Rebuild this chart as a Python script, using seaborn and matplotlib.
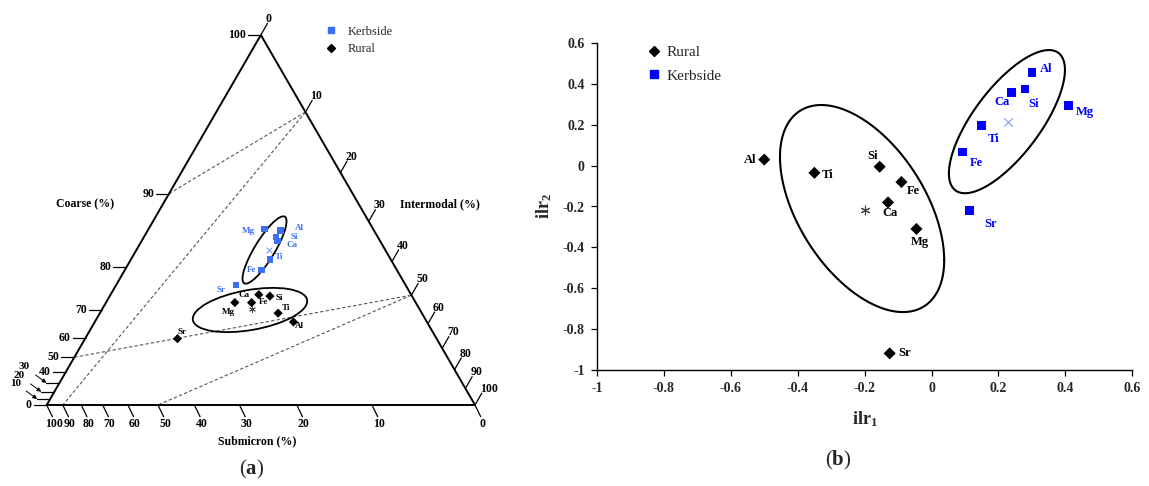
import numpy as np
import pandas as pd
import matplotlib
matplotlib.use("Agg")
import matplotlib.pyplot as plt
import seaborn as sns
from matplotlib.patches import Ellipse
from matplotlib.lines import Line2D

# ---------------- data ----------------
elements = ["Al", "Si", "Ca", "Mg", "Ti", "Fe", "Sr"]

# (a) ternary compositions (%): coarse / intermodal / submicron
kerb_coarse = [74.2, 73.3, 72.3, 75.8, 68.8, 66.8, 64.8]
kerb_inter = [20.6, 21.0, 21.9, 18.2, 23.9, 24.7, 23.5]
kerb_sub = [5.1, 5.7, 5.8, 6.0, 7.3, 8.6, 11.7]
rural_coarse = [48.1, 58.7, 58.0, 59.3, 52.4, 60.0, 49.8]
rural_inter = [42.0, 31.5, 30.1, 27.2, 37.1, 29.4, 25.3]
rural_sub = [9.9, 9.8, 11.9, 13.4, 10.5, 10.6, 24.9]
kerb_centre_t = [71.0, 22.2, 6.8]
rural_centre_t = [55.9, 31.6, 12.4]
centring = [6.75, 2.85, 1.0]          # perturbation used to centre the ternary
tern_ticks = [0, 10, 20, 30, 40, 50, 60, 70, 80, 90, 100]
guide_lines = [((90, 0, 10), (90, 10, 0)), ((90, 10, 0), (0, 10, 90)),
               ((50, 0, 50), (50, 50, 0)), ((50, 50, 0), (0, 50, 50))]

# (b) ilr coordinates
kerb_ilr1 = [0.30, 0.28, 0.24, 0.41, 0.15, 0.093, 0.114]
kerb_ilr2 = [0.456, 0.375, 0.36, 0.296, 0.196, 0.067, -0.22]
rural_ilr1 = [-0.50, -0.155, -0.13, -0.045, -0.35, -0.09, -0.125]
rural_ilr2 = [0.03, -0.005, -0.18, -0.31, -0.035, -0.08, -0.92]
kerb_centre_ilr = [0.228, 0.213]
rural_centre_ilr = [-0.20, -0.215]
# ellipse shape matrices (var1, var2, cov) and centres
kerb_ell = dict(c=(0.2255, 0.216), sx=0.1735, sy=0.351, sxy=0.044)
rural_ell = dict(c=(-0.2075, -0.21), sx=0.2455, sy=0.5075, sxy=-0.062)
ilr_ticks = [-1, -0.8, -0.6, -0.4, -0.2, 0, 0.2, 0.4, 0.6]
ilr_ticklabels = ["-1", "-0.8", "-0.6", "-0.4", "-0.2", "0", "0.2", "0.4", "0.6"]

# ---------------- style ----------------
sns.set_theme(style="white")
plt.rcParams["font.family"] = ["Liberation Serif", "DejaVu Serif"]
plt.rcParams["mathtext.fontset"] = "custom"
plt.rcParams["mathtext.rm"] = "Liberation Serif"
plt.rcParams["mathtext.bf"] = "Liberation Serif:bold"
plt.rcParams["mathtext.it"] = "Liberation Serif:italic"

BLUE_A = "#3a6ff5"
BLUE_B = "#0000ff"
FW, FH = 1149, 486
fig = plt.figure(figsize=(FW / 100, FH / 100), dpi=100)

# ---------------- (a) centred ternary ----------------
W, H = 428.3, 370.0
axL = fig.add_axes([0, 0, 575 / FW, 1])
axL.set_xlim(-46.7, 575 - 46.7)
axL.set_ylim(-81, 405)
axL.axis("off")


def tern(c, i, s):
    cc = np.asarray(c, float) / centring[0]
    ii = np.asarray(i, float) / centring[1]
    ss = np.asarray(s, float) / centring[2]
    tot = cc + ii + ss
    C, I = cc / tot, ii / tot
    return W * (I + 0.5 * C), H * C


tri = [tern(0, 0, 100), tern(0, 100, 0), tern(100, 0, 0), tern(0, 0, 100)]
axL.plot([p[0] for p in tri], [p[1] for p in tri], color="black", lw=1.4,
         solid_joinstyle="miter", zorder=2)

for a, b in guide_lines:
    pa, pb = tern(*a), tern(*b)
    axL.plot([pa[0], pb[0]], [pa[1], pb[1]], color="#555555", lw=0.8,
             ls=(0, (3, 2)), zorder=1)

tk = dict(fontsize=8.5, fontweight="bold", color="black")
for v in tern_ticks:
    # coarse (left edge)
    X, Y = tern(v, 0, 100 - v)
    axL.plot([X - 13, X], [Y, Y], color="black", lw=0.9)
    if v in (10, 20, 30):
        axL.annotate(str(v), xy=(X - 13, Y), xytext=(X - 35, Y + 16),
                     ha="center", va="center",
                     arrowprops=dict(arrowstyle="-|>", lw=0.7, color="black",
                                     mutation_scale=6, shrinkA=2, shrinkB=0),
                     fontsize=8, fontweight="bold", color="black")
    else:
        axL.text(X - 15, Y, str(v), ha="right", va="center", **tk)
    # submicron (bottom edge)
    X, Y = tern(0, 100 - v, v)
    axL.plot([X, X + 5.7], [Y, Y - 11.7], color="black", lw=0.9)
    axL.text(X + 7, Y - 19, str(v), ha="center", va="center", **tk)
    # intermodal (right edge)
    X, Y = tern(100 - v, v, 0)
    axL.plot([X, X + 6.7], [Y, Y + 11.7], color="black", lw=0.9)
    axL.text(X + 5, Y + 10, str(v), ha="left", va="bottom", **tk)

axL.text(38.3, 200.7, "Coarse (%)", ha="center", va="center", **tk)
axL.text(393.3, 200.7, "Intermodal (%)", ha="center", va="center", **tk)
axL.text(210, -36.7, "Submicron (%)", ha="center", va="center", **tk)
axL.text(205, -64, r"($\mathbf{a}$)", ha="center", va="center", fontsize=15)

kx, ky = tern(kerb_coarse, kerb_inter, kerb_sub)
rx, ry = tern(rural_coarse, rural_inter, rural_sub)
dfa = pd.DataFrame({"X": np.r_[kx, rx], "Y": np.r_[ky, ry],
                    "site": ["Kerbside"] * 7 + ["Rural"] * 7,
                    "el": elements * 2})
sns.scatterplot(data=dfa, x="X", y="Y", hue="site", style="site",
                markers={"Kerbside": "s", "Rural": "D"},
                palette={"Kerbside": BLUE_A, "Rural": "black"},
                s=22, linewidth=0, legend=False, ax=axL, zorder=4)
axL.set_xlabel("")
axL.set_ylabel("")

offs_a_k = {"Al": (19, 3), "Si": (19, 0), "Ca": (15, -4), "Mg": (-16, -2),
            "Ti": (9, 2), "Fe": (-10, 0), "Sr": (-15, -5)}
offs_a_r = {"Al": (6, -4), "Si": (9, -2), "Ca": (-8, 8), "Mg": (-6, -9),
            "Ti": (8, 5), "Fe": (5, -7), "Sr": (5, 7)}
for el, x, y in zip(elements, kx, ky):
    axL.annotate(el, (x, y), xytext=offs_a_k[el], textcoords="offset pixels",
                 ha="center", va="center", fontsize=6.5, fontweight="bold",
                 color=BLUE_A)
for el, x, y in zip(elements, rx, ry):
    axL.annotate(el, (x, y), xytext=offs_a_r[el], textcoords="offset pixels",
                 ha="center", va="center", fontsize=6.5, fontweight="bold",
                 color="black")

cxk, cyk = tern(*kerb_centre_t)
cxr, cyr = tern(*rural_centre_t)
axL.scatter([cxk], [cyk], marker="x", s=16, color="#7f9cf5", lw=0.8, zorder=4)
axL.scatter([cxr], [cyr], marker=(6, 2, 0), s=18, color="#444444", lw=0.7,
            zorder=4)
axL.add_patch(Ellipse((217.8, 155), 78, 20, angle=58.6, fill=False,
                      ec="black", lw=1.3, zorder=3))
axL.add_patch(Ellipse((203.3, 95), 116, 40, angle=10, fill=False,
                      ec="black", lw=1.3, zorder=3))

legA = [Line2D([], [], marker="s", ls="", color=BLUE_A, markersize=5,
               label="Kerbside"),
        Line2D([], [], marker="D", ls="", color="black", markersize=4,
               label="Rural")]
axL.legend(handles=legA, loc="upper left", bbox_to_anchor=(324.75 / 575, 0.9475),
           frameon=False, fontsize=9, handlelength=1.0, handletextpad=0.8,
           borderpad=0, borderaxespad=0, labelspacing=0.45)

# ---------------- (b) ilr scatter ----------------
axR = fig.add_axes([597 / FW, 1 - 369.7 / FH, (1132.2 - 597) / FW,
                    (369.7 - 43.3) / FH])
dfb = pd.DataFrame({"ilr1": kerb_ilr1 + rural_ilr1,
                    "ilr2": kerb_ilr2 + rural_ilr2,
                    "site": ["Kerbside"] * 7 + ["Rural"] * 7,
                    "el": elements * 2})
sns.scatterplot(data=dfb, x="ilr1", y="ilr2", hue="site", style="site",
                markers={"Kerbside": "s", "Rural": "D"},
                palette={"Kerbside": BLUE_B, "Rural": "black"},
                s=38, linewidth=0, legend=False, ax=axR, zorder=4)

for ell in (kerb_ell, rural_ell):
    S = np.array([[ell["sx"] ** 2, ell["sxy"]], [ell["sxy"], ell["sy"] ** 2]])
    L = np.linalg.cholesky(S)
    t = np.linspace(0, 2 * np.pi, 300)
    pts = L @ np.vstack([np.cos(t), np.sin(t)])
    axR.plot(pts[0] + ell["c"][0], pts[1] + ell["c"][1], color="black",
             lw=1.5, zorder=3)

axR.scatter([kerb_centre_ilr[0]], [kerb_centre_ilr[1]], marker="x", s=40,
            color="#7f9cf5", lw=0.8, zorder=4)
axR.scatter([rural_centre_ilr[0]], [rural_centre_ilr[1]], marker=(6, 2, 0),
            s=40, color="#444444", lw=0.8, zorder=4)

offs_b_k = {"Al": (14, 4), "Si": (8, -15), "Ca": (-10, -10), "Mg": (16, -7),
            "Ti": (12, -13), "Fe": (14, -11), "Sr": (21, -13)}
offs_b_r = {"Al": (-14, 0), "Si": (-7, 11), "Ca": (2, -11), "Mg": (3, -13),
            "Ti": (13, -2), "Fe": (12, -9), "Sr": (15, 0)}
for el, x, y in zip(elements, kerb_ilr1, kerb_ilr2):
    axR.annotate(el, (x, y), xytext=offs_b_k[el], textcoords="offset pixels",
                 ha="center", va="center", fontsize=9, fontweight="bold",
                 color=BLUE_B)
for el, x, y in zip(elements, rural_ilr1, rural_ilr2):
    axR.annotate(el, (x, y), xytext=offs_b_r[el], textcoords="offset pixels",
                 ha="center", va="center", fontsize=9, fontweight="bold",
                 color="black")

axR.set_xlim(-1, 0.6)
axR.set_ylim(-1, 0.6)
axR.set_xticks(ilr_ticks)
axR.set_xticklabels(ilr_ticklabels, fontweight="bold", fontsize=10)
axR.set_yticks(ilr_ticks)
axR.set_yticklabels(ilr_ticklabels, fontweight="bold", fontsize=10)
for sp in ("top", "right"):
    axR.spines[sp].set_visible(False)
for sp in ("left", "bottom"):
    axR.spines[sp].set_color("black")
    axR.spines[sp].set_linewidth(1.0)
axR.tick_params(direction="out", length=4, width=0.9, color="black",
                left=True, bottom=True, pad=5)
axR.set_xlabel(r"$\mathbf{ilr}_{\mathbf{1}}$", fontsize=13, labelpad=10)
axR.set_ylabel(r"$\mathbf{ilr}_{\mathbf{2}}$", fontsize=13, labelpad=6)
axR.grid(False)

legB = [Line2D([], [], marker="D", ls="", color="black", markersize=5,
               label="Rural"),
        Line2D([], [], marker="s", ls="", color=BLUE_B, markersize=6,
               label="Kerbside")]
fig.legend(handles=legB, loc="upper left",
           bbox_to_anchor=(646.4 / FW, 1 - 45.8 / FH), frameon=False,
           fontsize=11, handlelength=1.0, handletextpad=0.35, borderpad=0,
           borderaxespad=0, labelspacing=0.63)

fig.text(838 / FW, 1 - 460 / FH, r"($\mathbf{b}$)", ha="center", va="center",
         fontsize=15)

fig.savefig("out.png", dpi=100, facecolor="white")
